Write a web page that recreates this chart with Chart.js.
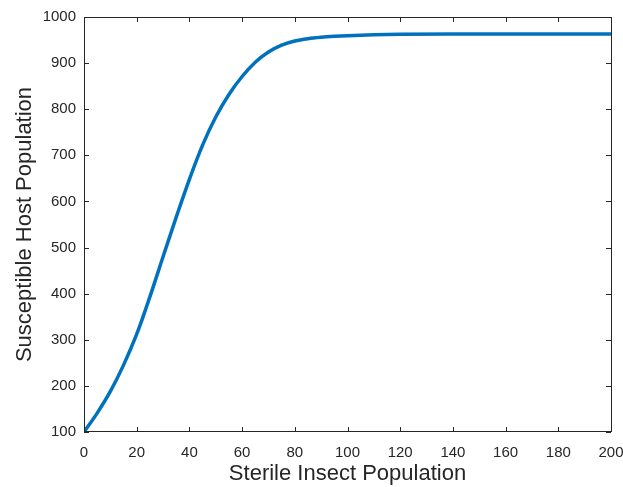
<!DOCTYPE html>
<html>
<head>
<meta charset="utf-8">
<script src="https://cdn.jsdelivr.net/npm/chart.js@4/dist/chart.umd.min.js"></script>
<style>
  html, body { margin: 0; padding: 0; background: #fff; }
  #wrap { width: 623px; height: 487px; }
</style>
</head>
<body>
<div id="wrap"><canvas id="chart"></canvas></div>
<script>
// values
const sterileInsects = [0, 5, 10, 15, 20, 25, 30, 35, 40, 45, 50, 55, 60, 65, 70, 75, 80, 85, 90, 95, 100, 110, 120, 140, 160, 180, 200];
const susceptibleHosts = [100, 141, 188, 245, 312, 393, 480, 566, 648, 722, 783, 832, 871, 902, 924, 939, 948, 953, 956, 958, 959.5, 961.5, 962.5, 963, 963, 963, 963];
const xTicks = [0, 20, 40, 60, 80, 100, 120, 140, 160, 180, 200];
const yTicks = [100, 200, 300, 400, 500, 600, 700, 800, 900, 1000];

const AXIS_COLOR = '#262626';
const LINE_COLOR = '#0072BD';
const FONT = 'Liberation Sans, Arial, sans-serif';

// matlab style box with inward ticks
const boxPlugin = {
    id: 'box',
    afterDraw(chart){
        const ctx = chart.ctx;
        const area = chart.chartArea;
        const xs = chart.scales.x;
        const ys = chart.scales.y;
        const len = 5;

        ctx.save();
        ctx.strokeStyle = AXIS_COLOR;
        ctx.lineWidth = 1;
        ctx.strokeRect(area.left + 0.5, area.top + 0.5, area.right - area.left, area.bottom - area.top - 1);
        ctx.beginPath();
        xTicks.forEach(v => {
            const px = Math.round(xs.getPixelForValue(v)) + 0.5;
            ctx.moveTo(px, area.bottom);
            ctx.lineTo(px, area.bottom - len);
            ctx.moveTo(px, area.top);
            ctx.lineTo(px, area.top + len);
        });
        yTicks.forEach(v => {
            const py = Math.round(ys.getPixelForValue(v)) + 0.5;
            ctx.moveTo(area.left, py);
            ctx.lineTo(area.left + len, py);
            ctx.moveTo(area.right, py);
            ctx.lineTo(area.right - len, py);
        });
        ctx.stroke();
        ctx.restore();
    }
};

const points = sterileInsects.map((x, i) => ({x: x, y: susceptibleHosts[i]}));

const config = {
    type: 'line',
    data: {
        datasets: [
            {
                data: points,
                borderColor: LINE_COLOR,
                borderWidth: 3.5,
                pointRadius: 0,
                cubicInterpolationMode: 'monotone',
                fill: false
            }
        ]
    },
    options: {
        responsive: false,
        animation: false,
        devicePixelRatio: 1,
        layout: {
            padding: {top: 17, right: 12, left: 0, bottom: 0}
        },
        plugins: {
            legend: { display: false },
            tooltip: { enabled: false }
        },
        scales: {
            x: {
                type: 'linear',
                min: 0,
                max: 200,
                afterBuildTicks: (scale) => { scale.ticks = xTicks.map(v => ({value: v})); },
                afterFit: (scale) => {
                    scale.height = 55;
                    scale.paddingLeft = 0;
                    scale.paddingRight = 0;
                },
                grid: { display: false, drawTicks: false },
                border: { display: false },
                ticks: {
                    color: AXIS_COLOR,
                    padding: 12,
                    maxRotation: 0,
                    callback: (v) => String(v),
                    font: { family: FONT, size: 15 }
                },
                title: {
                    display: true,
                    text: 'Sterile Insect Population',
                    color: AXIS_COLOR,
                    padding: {top: 0, bottom: 0},
                    font: { family: FONT, size: 22 }
                }
            },
            y: {
                type: 'linear',
                min: 100,
                max: 1000,
                afterBuildTicks: (scale) => { scale.ticks = yTicks.map(v => ({value: v})); },
                afterFit: (scale) => {
                    scale.width = 84;
                    scale.paddingTop = 0;
                    scale.paddingBottom = 0;
                },
                grid: { display: false, drawTicks: false },
                border: { display: false },
                ticks: {
                    color: AXIS_COLOR,
                    padding: 8,
                    callback: (v) => String(v),
                    font: { family: FONT, size: 15 }
                },
                title: {
                    display: true,
                    text: 'Susceptible Host Population',
                    color: AXIS_COLOR,
                    padding: {top: 12, bottom: 0},
                    font: { family: FONT, size: 22 }
                }
            }
        }
    },
    plugins: [boxPlugin]
};

const canvas = document.getElementById('chart');
canvas.width = 623;
canvas.height = 487;
new Chart(canvas.getContext('2d'), config);
</script>
</body>
</html>
